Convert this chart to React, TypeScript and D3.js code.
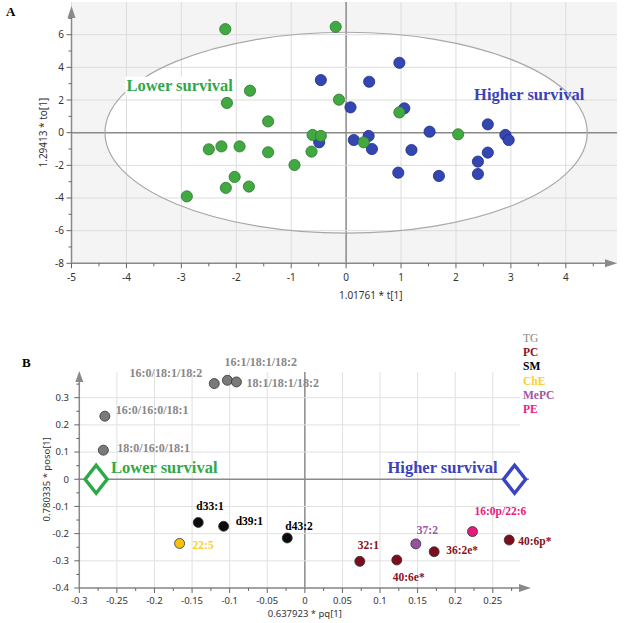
import React from "react";
import * as d3 from "d3";

// ---------- Panel A data (scores) ----------
const lowerX = [-2.2, -0.19, -1.75, -2.17, -0.13, -1.42, -0.61, -0.46, -2.5, -2.27, -1.94, -1.42, -0.63, -0.94, -2.03, -2.19, -1.77, -2.9, 0.97, 2.04, 0.32];
const lowerY = [6.34, 6.48, 2.57, 1.82, 2.02, 0.69, -0.14, -0.2, -1.02, -0.84, -0.84, -1.2, -1.16, -1.98, -2.71, -3.38, -3.3, -3.9, 1.24, -0.1, -0.59];
const higherX = [0.97, 0.42, 0.08, 1.06, 2.58, 1.52, 2.9, 2.96, 0.14, 0.41, 0.47, 1.19, 2.58, 2.4, 2.4, 0.95, 1.69, -0.46, -0.49];
const higherY = [4.28, 3.12, 1.55, 1.49, 0.51, 0.06, -0.14, -0.45, -0.45, -0.2, -1.0, -1.06, -1.22, -1.77, -2.53, -2.45, -2.65, 3.22, -0.59];
const aXTicks = [-5, -4, -3, -2, -1, 0, 1, 2, 3, 4];
const aYTicks = [-8, -6, -4, -2, 0, 2, 4, 6];
const ellipseRadii = [4.39, 6.15];

// ---------- Panel B data (loadings) ----------
const lipidNames = ["16:0/16:0/18:1", "18:0/16:0/18:1", "16:0/18:1/18:2", "16:1/18:1/18:2", "18:1/18:1/18:2", "d33:1", "d39:1", "d43:2", "22:5", "32:1", "40:6e*", "36:2e*", "40:6p*", "37:2", "16:0p/22:6"];
const lipidClass = ["TG", "TG", "TG", "TG", "TG", "SM", "SM", "SM", "ChE", "PC", "PC", "PC", "PC", "MePC", "PE"];
const lipidPq = [-0.266, -0.268, -0.1205, -0.103, -0.091, -0.1418, -0.108, -0.0234, -0.1666, 0.0731, 0.1223, 0.172, 0.2718, 0.1476, 0.223];
const lipidPoso = [0.232, 0.107, 0.352, 0.364, 0.358, -0.159, -0.173, -0.216, -0.236, -0.302, -0.297, -0.2665, -0.2235, -0.2378, -0.1925];
const classNames = ["TG", "PC", "SM", "ChE", "MePC", "PE"];
const classColors = ["#7a7a7a", "#7b0d1c", "#0a0a0a", "#f7c20a", "#9b4fa0", "#e8197c"];
const classLabelColors = ["#888888", "#8b1020", "#000000", "#f8d030", "#a055a5", "#e8197c"];
const groupNames = ["Lower survival", "Higher survival"];
const groupPq = [-0.2776, 0.279];
const bXTicks = [-0.3, -0.25, -0.2, -0.15, -0.1, -0.05, 0, 0.05, 0.1, 0.15, 0.2, 0.25];
const bYTicks = [-0.4, -0.3, -0.2, -0.1, 0, 0.1, 0.2, 0.3];

// label offsets (layout)
const labelOffsets: [number, number, string][] = [
  [11, -6, "start"], [14, -2, "start"], [-12, -11, "end"], [-3, -18, "start"], [10, 1, "start"],
  [-2, -16, "start"], [12, -5, "start"], [-2, -12, "start"], [13, 2, "start"],
  [-2, -16, "start"], [-4, 17, "start"], [12, -2, "start"], [9, 1, "start"], [1, -14, "start"], [2, -20, "start"],
];

const GREEN = "#2fa84a";
const BLUE = "#3a43b8";
const tickFont = "'Noto Sans', sans-serif";
const serif = "'Liberation Serif', 'Times New Roman', serif";

export default function App() {
  // Panel A scales
  const ax = d3.scaleLinear().domain([-5, 4]).range([71.5, 565.8]);
  const ay = d3.scaleLinear().domain([-8, 6]).range([263.3, 34.7]);
  const aRight = 617;
  const aTop = 2;
  // Panel B scales
  const bx = d3.scaleLinear().domain([-0.3, 0.25]).range([79.3, 492.8]);
  const by = d3.scaleLinear().domain([-0.4, 0.3]).range([588, 397.7]);
  const bRight = 531;
  const bTop = 372;

  const aMinorX = d3.range(-5, 4.51, 0.5);
  const aMinorY = d3.range(-8, 7.1, 1);
  const bMinorX = d3.range(-0.3, 0.276, 0.025);
  const bMinorY = d3.range(-0.4, 0.351, 0.05);

  const clsIdx = (c: string) => classNames.indexOf(c);

  return (
    <svg width={625} height={623} style={{ position: "absolute", left: 0, top: 0, background: "#fff" }}>
      {/* ================= PANEL A ================= */}
      <text x={6} y={16} fontFamily={serif} fontWeight="bold" fontSize={13}>A</text>
      <rect x={ax(-5)} y={aTop} width={aRight - ax(-5)} height={ay(-8) - aTop} fill="#f4f4f4" />
      <ellipse cx={ax(0)} cy={ay(0)} rx={ax(ellipseRadii[0]) - ax(0)} ry={ay(0) - ay(ellipseRadii[1])} fill="#ffffff" />
      {aXTicks.map((t) => (
        <line key={"agx" + t} x1={ax(t)} x2={ax(t)} y1={aTop} y2={ay(-8)} stroke={t === 0 ? "#8a8a8a" : "#dcdcdc"} strokeWidth={t === 0 ? 1.5 : 1} />
      ))}
      {aYTicks.map((t) => (
        <line key={"agy" + t} x1={ax(-5)} x2={aRight} y1={ay(t)} y2={ay(t)} stroke={t === 0 ? "#8a8a8a" : "#dcdcdc"} strokeWidth={t === 0 ? 1.5 : 1} />
      ))}
      <ellipse cx={ax(0)} cy={ay(0)} rx={ax(ellipseRadii[0]) - ax(0)} ry={ay(0) - ay(ellipseRadii[1])} fill="none" stroke="#a8a8a8" strokeWidth={1.2} />
      {/* axes */}
      <line x1={ax(-5)} x2={ax(-5)} y1={ay(-8)} y2={16} stroke="#8a8a8a" strokeWidth={1.5} />
      <path d={`M${ax(-5) - 4},${18} L${ax(-5)},${6} L${ax(-5) + 4},${18} Z`} fill="#8a8a8a" />
      <line x1={ax(-5)} x2={aRight - 10} y1={ay(-8)} y2={ay(-8)} stroke="#8a8a8a" strokeWidth={1.5} />
      <path d={`M${aRight - 12},${ay(-8) - 4} L${aRight},${ay(-8)} L${aRight - 12},${ay(-8) + 4} Z`} fill="#8a8a8a" />
      {aMinorX.map((t) => (
        <line key={"amx" + t} x1={ax(t)} x2={ax(t)} y1={ay(-8)} y2={ay(-8) + (Math.abs(t % 1) < 1e-6 ? 5 : 3)} stroke="#666" />
      ))}
      {aMinorY.map((t) => (
        <line key={"amy" + t} x1={ax(-5) - (Math.abs(t % 2) < 1e-6 ? 5 : 3)} x2={ax(-5)} y1={ay(t)} y2={ay(t)} stroke="#666" />
      ))}
      {aXTicks.map((t) => (
        <text key={"axl" + t} x={ax(t)} y={ay(-8) + 18} textAnchor="middle" fontFamily={tickFont} fontSize={10} fill="#333">{t}</text>
      ))}
      {aYTicks.map((t) => (
        <text key={"ayl" + t} x={64} y={ay(t)} dy="0.35em" textAnchor="end" fontFamily={tickFont} fontSize={10} fill="#333">{t}</text>
      ))}
      <text x={ax(0.45)} y={299} textAnchor="middle" fontFamily={tickFont} fontSize={10} fill="#333">1.01761 * t[1]</text>
      <text transform={`translate(47,${ay(0)}) rotate(-90)`} textAnchor="middle" fontFamily={tickFont} fontSize={10} fill="#333">1.29413 * to[1]</text>
      {/* group labels */}
      <rect x={ax(-4.02)} y={ay(2.88) - 9} width={110} height={18} fill="#fff" />
      <text x={ax(-4.0)} y={ay(2.88)} dy="0.33em" fontFamily={serif} fontWeight="bold" fontSize={16.5} fill={GREEN}>{groupNames[0]}</text>
      <text x={ax(2.33)} y={ay(2.31)} dy="0.33em" fontFamily={serif} fontWeight="bold" fontSize={16.5} fill={BLUE}>{groupNames[1]}</text>
      {/* points */}
      {higherX.map((v, i) => (
        <circle key={"hb" + i} cx={ax(v)} cy={ay(higherY[i])} r={5.6} fill="#3346b2" stroke="#1f2d85" strokeWidth={0.8} />
      ))}
      {lowerX.map((v, i) => (
        <circle key={"lg" + i} cx={ax(v)} cy={ay(lowerY[i])} r={5.6} fill="#41a842" stroke="#2b7a2c" strokeWidth={0.8} />
      ))}

      {/* ================= PANEL B ================= */}
      <text x={22} y={367} fontFamily={serif} fontWeight="bold" fontSize={13}>B</text>
      {bXTicks.map((t) => (
        <line key={"bgx" + t} x1={bx(t)} x2={bx(t)} y1={bTop} y2={by(-0.4)} stroke={Math.abs(t) < 1e-9 ? "#8a8a8a" : "#e0e0e0"} strokeWidth={Math.abs(t) < 1e-9 ? 1.5 : 1} />
      ))}
      {bYTicks.map((t) => (
        <line key={"bgy" + t} x1={bx(-0.3)} x2={Math.abs(t) < 1e-9 ? bRight - 2 : 520} y1={by(t)} y2={by(t)} stroke={Math.abs(t) < 1e-9 ? "#8a8a8a" : "#e0e0e0"} strokeWidth={Math.abs(t) < 1e-9 ? 1.5 : 1} />
      ))}
      <line x1={bx(-0.3)} x2={bx(-0.3)} y1={by(-0.4)} y2={bTop + 8} stroke="#8a8a8a" strokeWidth={1.5} />
      <path d={`M${bx(-0.3) - 4},${bTop + 10} L${bx(-0.3)},${bTop - 1} L${bx(-0.3) + 4},${bTop + 10} Z`} fill="#8a8a8a" />
      <line x1={bx(-0.3)} x2={bRight - 10} y1={by(-0.4)} y2={by(-0.4)} stroke="#8a8a8a" strokeWidth={1.5} />
      <path d={`M${bRight - 12},${by(-0.4) - 4} L${bRight},${by(-0.4)} L${bRight - 12},${by(-0.4) + 4} Z`} fill="#8a8a8a" />
      {bMinorX.map((t, i) => (
        <line key={"bmx" + i} x1={bx(t)} x2={bx(t)} y1={by(-0.4)} y2={by(-0.4) + (i % 2 === 0 ? 5 : 3)} stroke="#666" />
      ))}
      {bMinorY.map((t, i) => (
        <line key={"bmy" + i} x1={bx(-0.3) - (i % 2 === 0 ? 5 : 3)} x2={bx(-0.3)} y1={by(t)} y2={by(t)} stroke="#666" />
      ))}
      {bXTicks.map((t) => (
        <text key={"bxl" + t} x={bx(t)} y={by(-0.4) + 16} textAnchor="middle" fontFamily={tickFont} fontSize={9.5} fill="#333">{Math.abs(t) < 1e-9 ? "0" : String(t)}</text>
      ))}
      {bYTicks.map((t) => (
        <text key={"byl" + t} x={69} y={by(t)} dy="0.35em" textAnchor="end" fontFamily={tickFont} fontSize={9.5} fill="#333">{Math.abs(t) < 1e-9 ? "0" : String(t)}</text>
      ))}
      <text x={bx(0) + 0} y={617} textAnchor="middle" fontFamily={tickFont} fontSize={9.5} fill="#333">0.637923 * pq[1]</text>
      <text transform={`translate(50,${by(0)}) rotate(-90)`} textAnchor="middle" fontFamily={tickFont} fontSize={9.5} fill="#333">0.780335 * poso[1]</text>

      {/* group diamonds */}
      {groupPq.map((v, i) => {
        const cx = bx(v);
        const cy = by(0);
        const col = i === 0 ? GREEN : "#3b45c4";
        return (
          <path key={"dia" + i} d={`M${cx},${cy - 14} L${cx + 11},${cy} L${cx},${cy + 14} L${cx - 11},${cy} Z`} fill="#fff" stroke={col} strokeWidth={3.5} />
        );
      })}
      <text x={111} y={467.5} dy="0.33em" fontFamily={serif} fontWeight="bold" fontSize={16.5} fill={GREEN}>{groupNames[0]}</text>
      <text x={387.5} y={467.5} dy="0.33em" fontFamily={serif} fontWeight="bold" fontSize={16.5} fill={BLUE}>{groupNames[1]}</text>

      {/* loadings */}
      {lipidPq.map((v, i) => {
        const ci = clsIdx(lipidClass[i]);
        return (
          <circle key={"lp" + i} cx={bx(v)} cy={by(lipidPoso[i])} r={5} fill={classColors[ci]} stroke="#333" strokeWidth={0.8} />
        );
      })}
      {lipidPq.map((v, i) => {
        const ci = clsIdx(lipidClass[i]);
        const [dx, dy, anchor] = labelOffsets[i];
        return (
          <text key={"ll" + i} x={bx(v) + dx} y={by(lipidPoso[i]) + dy} dy="0.33em" textAnchor={anchor} fontFamily={serif} fontWeight="bold" fontSize={lipidClass[i] === "TG" ? 12 : 11.5} fill={classLabelColors[ci]}>{lipidNames[i]}</text>
        );
      })}
      {/* legend */}
      {classNames.map((c, i) => (
        <text key={"lg" + c} x={523} y={338.5 + i * 14.1} dy="0.33em" fontFamily={serif} fontWeight={i === 0 ? "normal" : "bold"} fontSize={11.5} fill={classLabelColors[i]}>{c}</text>
      ))}
    </svg>
  );
}
